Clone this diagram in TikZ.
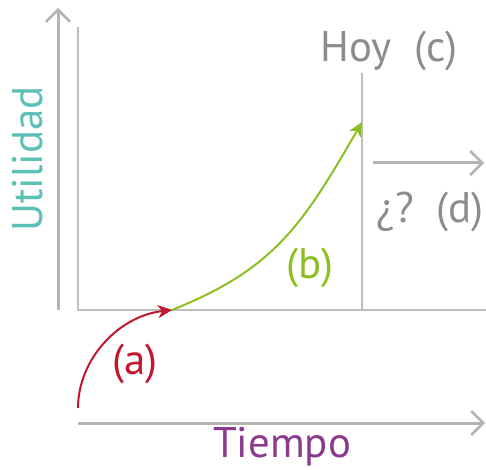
\documentclass[tikz,border=0pt]{standalone}
\usepackage{fontspec}
\setmainfont{PT Sans}
\usepackage{tikz}
\usepackage{xcolor}
\usetikzlibrary{arrows.meta}

\definecolor{axisgray}{HTML}{B4B4B4}
\definecolor{linegray}{HTML}{BEBEBE}
\definecolor{txtgray}{HTML}{8C8C8C}
\definecolor{teal}{HTML}{5CC0B6}
\definecolor{redA}{HTML}{C2182E}
\definecolor{greenB}{HTML}{8DBF22}
\definecolor{purple}{HTML}{8B3A8E}

\begin{document}
\begin{tikzpicture}[
x=1bp, y=-1bp,
every node/.style={inner sep=0pt, font=\fontsize{43}{50}\selectfont},
axis/.style={line width=3bp, axisgray, -{Straight Barb[length=12bp, width=24bp, line width=2.5bp]}},
thinline/.style={line width=1.4bp, linegray},
>={Stealth[length=14bp, width=13bp, inset=4bp]}
]

\useasboundingbox (0,0) rectangle (486,470);

\coordinate (ybot) at (58,310);
\coordinate (ytop) at (58,8);
\coordinate (xleft) at (78,423);
\coordinate (xright) at (485,423);
\coordinate (boxtop) at (78,27);
\coordinate (o) at (78,310);
\coordinate (boxright) at (486,310);
\coordinate (nowtop) at (362,73);
\coordinate (nowbot) at (362,310);
\coordinate (start) at (78,408);
\coordinate (mid) at (172,310);
\coordinate (now) at (362,122);
\coordinate (futl) at (373,163);
\coordinate (futr) at (484,163);

\draw[axis] (ybot) -- (ytop);
\draw[axis] (xleft) -- (xright);
\draw[thinline] (boxtop) -- (o) -- (boxright);
\draw[thinline] (nowtop) -- (nowbot);
\draw[axis] (futl) -- (futr);

\draw[->, redA, line width=2bp] (start) .. controls (78,360) and (118,316) .. (mid);
\draw[->, greenB, line width=2bp] (mid) .. controls (274,269) and (302,226) .. (now);

\node (util) [teal, rotate=90] at (28,159) {Utilidad};
\node (tiempo) [purple, anchor=base] at (282,457) {Tiempo};
\node (hoy) [txtgray, anchor=base] at (389,62) {Hoy\ \ (c)};
\node (fut) [txtgray, anchor=base] at (430,223) {¿?\ \ (d)};
\node (a) [redA, anchor=base] at (135,374) {(a)};
\node (b) [greenB, anchor=base] at (310,278) {(b)};

\end{tikzpicture}
\end{document}
